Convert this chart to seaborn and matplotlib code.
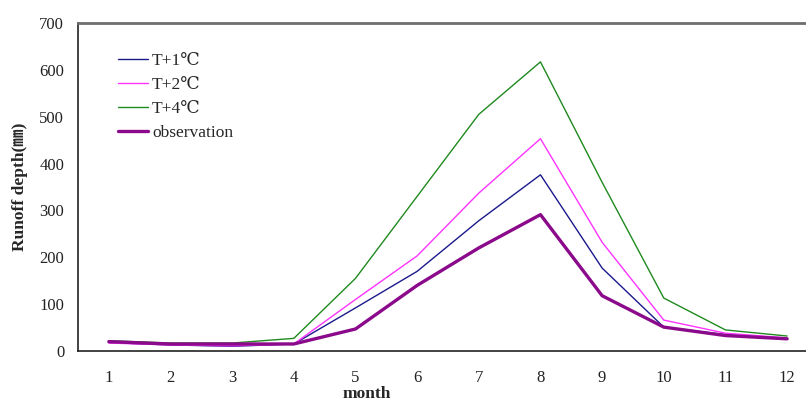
import numpy as np
import pandas as pd
import matplotlib
matplotlib.use("Agg")
import matplotlib.pyplot as plt
import seaborn as sns

# ---- data ----
months = [1, 2, 3, 4, 5, 6, 7, 8, 9, 10, 11, 12]
t_plus_1 = [18, 13, 10, 15, 92, 170, 278, 376, 177, 51, 35, 27]
t_plus_2 = [17, 13, 11, 15, 110, 203, 337, 453, 232, 66, 38, 28]
t_plus_4 = [22, 17, 17, 27, 155, 330, 505, 617, 360, 113, 45, 32]
observation = [20, 15, 15, 15, 47, 140, 220, 291, 118, 51, 33, 26]

series_names = ["T+1℃", "T+2℃", "T+4℃", "observation"]
series_colors = ["#1a1a8c", "#ff33ff", "#1f8a1f", "#8b0a8b"]
series_widths = [1.0, 1.0, 1.0, 2.4]

df = pd.DataFrame({
    "month": months * 4,
    "runoff": t_plus_1 + t_plus_2 + t_plus_4 + observation,
    "series": sum([[n] * len(months) for n in series_names], []),
})

sns.set_style("white")
fonts = ["Liberation Serif", "DejaVu Serif", "Noto Sans CJK SC"]
plt.rcParams["font.family"] = fonts

fig = plt.figure(figsize=(8.06, 4.03), dpi=100)
ax = fig.add_axes([0.0968, 0.129, 0.918, 0.814])

sns.lineplot(data=df, x="month", y="runoff", hue="series", hue_order=series_names,
             palette=series_colors, ax=ax, legend=False)
for line, lw in zip(ax.get_lines(), series_widths):
    line.set_linewidth(lw)

# legend built from handles so line widths match the plot
handles = [plt.Line2D([], [], color=c, lw=lw) for c, lw in zip(series_colors, series_widths)]
leg = ax.legend(handles, series_names, loc="upper left", bbox_to_anchor=(0.045, 0.93),
                frameon=False, fontsize=12.5, handlelength=1.7, handletextpad=0.25,
                labelspacing=0.45, borderaxespad=0)

ax.set_xlim(0.5, 12.5)
ax.set_ylim(0, 700)
ax.set_yticks(np.arange(0, 701, 100))
# category boundaries get the tick marks, labels sit at the centres
ax.set_xticks(np.arange(0.5, 12.6, 1))
ax.set_xticklabels([])
ax.set_xticks(months, minor=True)
ax.set_xticklabels([str(m) for m in months], minor=True)
ax.tick_params(axis="x", which="major", direction="in", length=5, width=1, color="#333333")
ax.tick_params(axis="x", which="minor", length=0, pad=14, labelsize=12, labelcolor="#222222")
ax.tick_params(axis="y", direction="in", length=5, width=1, color="#333333",
               labelsize=12, labelcolor="#222222", pad=10)

for s in ["left", "bottom"]:
    ax.spines[s].set_color("#222222")
    ax.spines[s].set_linewidth(1.2)
ax.spines["top"].set_color("#6e6e6e")
ax.spines["top"].set_linewidth(2)
ax.spines["right"].set_color("#6e6e6e")

ax.set_xlabel("month", fontsize=12.5, fontweight="bold", va="top")
ax.set_ylabel("Runoff depth(㎜)", fontsize=12.5, fontweight="bold", labelpad=8)
ax.xaxis.set_label_coords(0.39, -0.106)

fig.savefig("out.png", dpi=100)
